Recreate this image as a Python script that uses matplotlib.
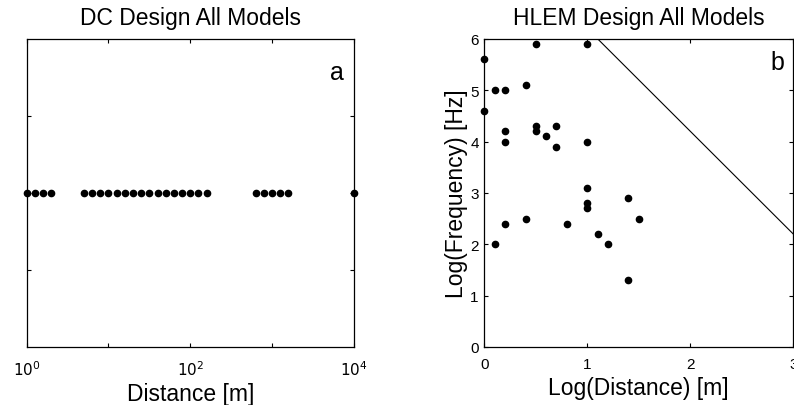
import matplotlib
matplotlib.use("Agg")
import matplotlib.pyplot as plt
import numpy as np

plt.rcParams["font.family"] = ["Liberation Sans", "DejaVu Sans"]

# panel a: DC design distances [m], all at the same height
dc_dist = [1.0, 1.26, 1.58, 2.0,
           5.0, 6.3, 7.9, 10.0, 12.6, 15.8, 20.0, 25.1, 31.6, 39.8, 50.1, 63.1, 79.4, 100.0, 125.9, 158.5,
           631.0, 794.3, 1000.0, 1258.9, 1584.9,
           10000.0]
dc_level = [0.5] * len(dc_dist)

# panel b: HLEM design, log10 distance vs log10 frequency
hlem_logd = [0.0, 0.0, 0.1, 0.2, 0.4, 0.5, 1.0, 0.2, 0.2, 0.5, 0.5, 0.6, 0.7, 0.7,
             1.0, 1.0, 1.0, 1.0, 1.4, 1.5, 0.1, 0.2, 0.4, 0.8, 1.1, 1.2, 1.4]
hlem_logf = [5.6, 4.6, 5.0, 5.0, 5.1, 5.9, 5.9, 4.2, 4.0, 4.3, 4.2, 4.1, 4.3, 3.9,
             4.0, 3.1, 2.8, 2.7, 2.9, 2.5, 2.0, 2.4, 2.5, 2.4, 2.2, 2.0, 1.3]
limit_logd = [1.1, 3.0]
limit_logf = [6.0, 2.2]

fig = plt.figure(figsize=(7.94, 4.06), dpi=100)
ax1 = fig.add_axes([0.0336, 0.143, 0.412, 0.759])
ax2 = fig.add_axes([0.610, 0.143, 0.389, 0.759])

for ax in (ax1, ax2):
    ax.tick_params(direction="in", top=True, right=True, length=3, width=0.8, labelsize=11, pad=7)
    ax.tick_params(axis="y", pad=4)
    for s in ax.spines.values():
        s.set_linewidth(0.9)

# a
ax1.plot(dc_dist, dc_level, "o", color="black", ms=4.5, clip_on=False)
ax1.set_xscale("log")
ax1.set_xlim(1, 1e4)
ax1.set_ylim(0, 1)
ax1.set_xticks([1, 10, 100, 1000, 10000])
ax1.set_xticklabels([r"$10^0$", "", r"$10^2$", "", r"$10^4$"])
ax1.xaxis.set_minor_locator(matplotlib.ticker.NullLocator())
ax1.tick_params(axis="x", pad=9)
ax1.set_yticks([0.25, 0.5, 0.75])
ax1.set_yticklabels([])
ax1.set_title("DC Design All Models", fontsize=16.5, pad=11)
ax1.set_xlabel("Distance [m]", fontsize=16.5, labelpad=3)
ax1.text(0.969, 0.870, "a", transform=ax1.transAxes, ha="right", va="baseline", fontsize=18)

# b
ax2.plot(hlem_logd, hlem_logf, "o", color="black", ms=4.5, clip_on=False)
ax2.plot(limit_logd, limit_logf, "-", color="black", lw=0.8)
ax2.set_xlim(0, 3)
ax2.set_ylim(0, 6)
ax2.set_xticks([0, 1, 2, 3])
ax2.set_yticks([0, 1, 2, 3, 4, 5, 6])
ax2.set_title("HLEM Design All Models", fontsize=16.5, pad=11)
ax2.set_xlabel("Log(Distance) [m]", fontsize=16.5, labelpad=4)
ax2.set_ylabel("Log(Frequency) [Hz]", fontsize=16.5, labelpad=2)
ax2.text(0.970, 0.903, "b", transform=ax2.transAxes, ha="right", va="baseline", fontsize=18)

fig.savefig("out.png", dpi=100)
